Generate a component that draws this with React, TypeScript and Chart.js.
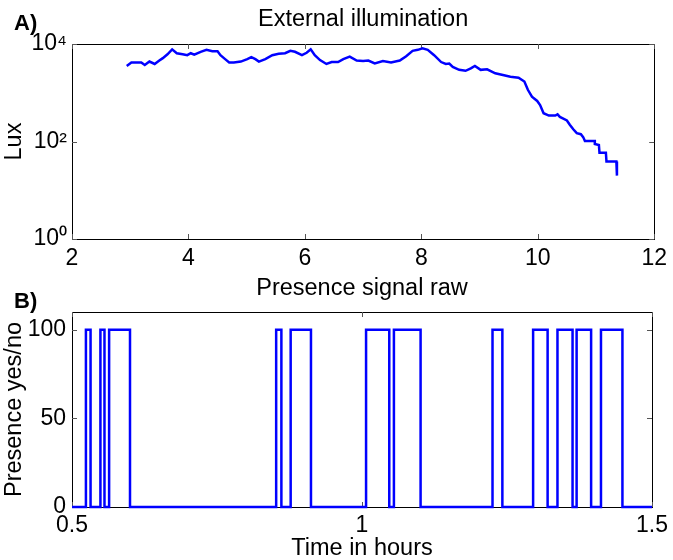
import React, { useEffect, useRef } from "react";
import { Chart, registerables } from "chart.js";

Chart.register(...registerables);

// ---------- Panel A: external illumination (Lux, log scale) ----------
const luxTime = [
  2.94, 3.02, 3.19, 3.25, 3.33, 3.42, 3.5, 3.56, 3.64, 3.72, 3.8, 3.9, 3.98, 4.04, 4.1, 4.21, 4.31, 4.41,
  4.5, 4.55, 4.63, 4.7, 4.78, 4.9, 5.01, 5.08, 5.15, 5.21, 5.32, 5.44, 5.55, 5.66, 5.75, 5.83, 5.95, 6.03,
  6.1, 6.17, 6.26, 6.37, 6.46, 6.57, 6.66, 6.77, 6.89, 7.0, 7.09, 7.2, 7.34, 7.48, 7.63, 7.74, 7.85, 7.94,
  8.02, 8.11, 8.22, 8.34, 8.42, 8.48, 8.54, 8.65, 8.76, 8.85, 8.92, 9.02, 9.13, 9.27, 9.42, 9.53, 9.67,
  9.77, 9.83, 9.9, 9.99, 10.04, 10.1, 10.19, 10.3, 10.34, 10.38, 10.5, 10.55, 10.61, 10.67, 10.74, 10.78,
  10.81, 10.98, 10.98, 11.05, 11.06, 11.17, 11.18, 11.35, 11.36,
];
const luxValues = [
  3550, 4170, 4170, 3715, 4365, 3890, 4570, 5130, 6165, 7760, 6460, 6165, 5890, 6460, 6030, 6920, 7590, 7080,
  7080, 5890, 4900, 4170, 4170, 4365, 4900, 5370, 4900, 4365, 4900, 5890, 6310, 6460, 7240, 6920, 5890, 6600,
  7760, 5890, 4680, 3890, 4265, 4265, 4900, 5500, 4570, 4470, 4570, 3980, 4470, 4170, 4570, 5620, 7240, 7590,
  8130, 7590, 5890, 4265, 3890, 3980, 3390, 2950, 2820, 3160, 3550, 2950, 3020, 2510, 2290, 2140, 2040,
  1700, 1150, 830, 680, 560, 380, 340, 340, 360, 320, 270, 220, 178, 148, 141, 123,
  102, 102, 89, 85, 59, 59, 39, 39, 20,
];
const luxXTicks = [2, 4, 6, 8, 10, 12];
const luxYTicks = [1, 100, 10000];

// ---------- Panel B: presence signal (0 / 100) ----------
const presenceOn = [0.524, 0.549, 0.564, 0.852, 0.877, 1.007, 1.055, 1.225, 1.295, 1.337, 1.37, 1.412];
const presenceOff = [0.532, 0.556, 0.6, 0.861, 0.912, 1.047, 1.101, 1.242, 1.32, 1.363, 1.395, 1.449];
const presenceXTicks = [0.5, 1, 1.5];
const presenceYTicks = [0, 50, 100];

const FONT = "'Liberation Sans', Arial, Helvetica, sans-serif";
const BLUE = "#0000ff";

const SUP: Record<string, string> = { "0": "\u2070", "1": "\u00b9", "2": "\u00b2", "3": "\u00b3", "4": "\u2074" };
const powerLabel = (v: number) => "10" + String(Math.round(Math.log10(v))).split("").map((c) => SUP[c] || c).join("");

function makeBoxPlugin(panelLabel: string, labelBaseline: number) {
  return {
    id: "matlabBox",
    beforeDatasetsDraw(chart: any) {
      const { ctx, chartArea, scales } = chart;
      const { left, right, top, bottom } = chartArea;
      const xs = scales.x;
      const ys = scales.y;
      ctx.save();
      ctx.strokeStyle = "#000";
      ctx.lineWidth = 1;
      ctx.strokeRect(Math.round(left) + 0.5, Math.round(top) + 0.5, Math.round(right - left), Math.round(bottom - top));
      ctx.strokeStyle = "#555";
      const tl = 5;
      ctx.beginPath();
      xs.ticks.forEach((t: any) => {
        const px = Math.round(xs.getPixelForValue(t.value)) + 0.5;
        ctx.moveTo(px, bottom);
        ctx.lineTo(px, bottom - tl);
        ctx.moveTo(px, top);
        ctx.lineTo(px, top + tl);
      });
      ys.ticks.forEach((t: any) => {
        const py = Math.round(ys.getPixelForValue(t.value)) + 0.5;
        ctx.moveTo(left, py);
        ctx.lineTo(left + tl, py);
        ctx.moveTo(right, py);
        ctx.lineTo(right - tl, py);
      });
      ctx.stroke();
      ctx.restore();
    },
    afterDraw(chart: any) {
      const { ctx } = chart;
      ctx.save();
      ctx.fillStyle = "#000";
      ctx.font = `bold 22px ${FONT}`;
      ctx.textAlign = "left";
      ctx.textBaseline = "alphabetic";
      ctx.fillText(panelLabel, 14, labelBaseline);
      ctx.restore();
    },
  };
}

const tickFont = { family: FONT, size: 23 };
const titleFont = { family: FONT, size: 23.5, weight: "normal" as const, lineHeight: 1.2 };
const axisTitleFont = { family: FONT, size: 23.5, weight: "normal" as const, lineHeight: 1.0 };

export default function App() {
  const topRef = useRef<HTMLCanvasElement>(null);
  const botRef = useRef<HTMLCanvasElement>(null);

  useEffect(() => {
    const luxData = luxTime.map((t, i) => ({ x: t, y: luxValues[i] }));
    const presenceData: { x: number; y: number }[] = [{ x: 0.5, y: 0 }];
    presenceOn.forEach((on, i) => {
      presenceData.push({ x: on, y: 100 });
      presenceData.push({ x: presenceOff[i], y: 0 });
    });
    presenceData.push({ x: 1.5, y: 0 });

    const top = new Chart(topRef.current as HTMLCanvasElement, {
      type: "line",
      data: {
        datasets: [
          {
            data: luxData,
            borderColor: BLUE,
            borderWidth: 2.5,
            pointRadius: 0,
            tension: 0,
            fill: false,
          },
        ],
      },
      options: {
        animation: false,
        responsive: false,
        devicePixelRatio: 1,
        layout: { padding: { left: 0, right: 15, top: 0, bottom: 0 } },
        plugins: {
          legend: { display: false },
          tooltip: { enabled: false },
          title: {
            display: true,
            text: "External illumination",
            color: "#000",
            font: titleFont,
            fullSize: false,
            padding: { top: 5.5, bottom: 10.3 },
          },
        },
        scales: {
          x: {
            type: "linear",
            min: 2,
            max: 12,
            afterBuildTicks: (s: any) => {
              s.ticks = luxXTicks.map((v) => ({ value: v }));
            },
            afterFit: (s: any) => {
              s.height = 33;
            },
            grid: { display: false, drawTicks: false },
            border: { display: false },
            ticks: { color: "#000", font: tickFont, padding: 6, maxRotation: 0, autoSkip: false, callback: (v: any) => String(v) },
          },
          y: {
            type: "logarithmic",
            min: 1,
            max: 10000,
            afterBuildTicks: (s: any) => {
              s.ticks = luxYTicks.map((v) => ({ value: v }));
            },
            afterFit: (s: any) => {
              s.width = 72;
            },
            grid: { display: false, drawTicks: false },
            border: { display: false },
            ticks: {
              color: "#000",
              font: tickFont,
              padding: 5,
              autoSkip: false,
              callback: (v: any) => powerLabel(Number(v)),
            },
            title: { display: true, text: "Lux", color: "#000", font: axisTitleFont, padding: { top: 3, bottom: 0 } },
          },
        },
      },
      plugins: [makeBoxPlugin("A)", 30)],
    } as any);

    const bottom = new Chart(botRef.current as HTMLCanvasElement, {
      type: "line",
      data: {
        datasets: [
          {
            data: presenceData,
            borderColor: BLUE,
            borderWidth: 2.5,
            pointRadius: 0,
            stepped: "before",
            fill: false,
            clip: false,
          },
        ],
      },
      options: {
        animation: false,
        responsive: false,
        devicePixelRatio: 1,
        layout: { padding: { left: 0, right: 15, top: 0, bottom: 0 } },
        plugins: {
          legend: { display: false },
          tooltip: { enabled: false },
          title: {
            display: true,
            text: "Presence signal raw",
            color: "#000",
            font: titleFont,
            fullSize: false,
            padding: { top: 2.3, bottom: 9.5 },
          },
        },
        scales: {
          x: {
            type: "linear",
            min: 0.5,
            max: 1.5,
            afterBuildTicks: (s: any) => {
              s.ticks = presenceXTicks.map((v) => ({ value: v }));
            },
            afterFit: (s: any) => {
              s.height = 53;
            },
            grid: { display: false, drawTicks: false },
            border: { display: false },
            ticks: { color: "#000", font: tickFont, padding: 5, maxRotation: 0, autoSkip: false, callback: (v: any) => String(v) },
            title: { display: true, text: "Time in hours", color: "#000", font: axisTitleFont, padding: { top: 0, bottom: 0 } },
          },
          y: {
            type: "linear",
            min: 0,
            max: 110,
            afterBuildTicks: (s: any) => {
              s.ticks = presenceYTicks.map((v) => ({ value: v }));
            },
            afterFit: (s: any) => {
              s.width = 72;
            },
            grid: { display: false, drawTicks: false },
            border: { display: false },
            ticks: { color: "#000", font: tickFont, padding: 6, autoSkip: false },
            title: {
              display: true,
              text: "Presence yes/no",
              color: "#000",
              font: axisTitleFont,
              padding: { top: 3, bottom: 0 },
            },
          },
        },
      },
      plugins: [makeBoxPlugin("B)", 36)],
    } as any);

    return () => {
      top.destroy();
      bottom.destroy();
    };
  }, []);

  return (
    <div style={{ position: "absolute", left: 0, top: 0, width: 673, height: 560, background: "#fff" }}>
      <canvas ref={topRef} width={673} height={272} style={{ position: "absolute", left: 0, top: 0, display: "block" }} />
      <canvas ref={botRef} width={673} height={288} style={{ position: "absolute", left: 0, top: 272, display: "block" }} />
    </div>
  );
}
